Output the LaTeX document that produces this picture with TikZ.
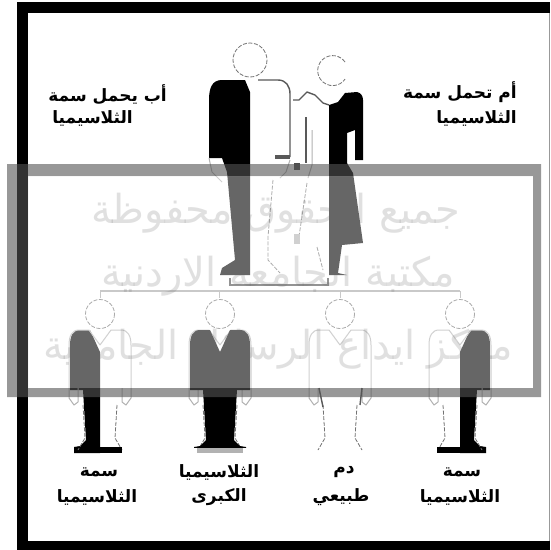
\documentclass[tikz,border=0pt]{standalone}
\usepackage{fontspec}
\newfontfamily\arabicfont[Script=Arabic]{DejaVu Sans}
\TeXXeTstate=1
\tikzset{
  x=1pt,y=-1pt,
  lbl/.style={font=\arabicfont\bfseries\fontsize{17}{20}\selectfont,inner sep=0pt,text=black},
  stamptext/.style={font=\arabicfont\fontsize{40}{44}\selectfont,inner sep=0pt,text=black!60,opacity=.2},
  outlinedash/.style={draw=black!55,line width=.8pt,dash pattern=on 4pt off 1.6pt,line join=round},
  lightline/.style={draw=black!30,line width=1pt,line join=round},
  greyline/.style={draw=black!65,line width=1.4pt,line join=round},
  connector/.style={draw=black!35,line width=1.2pt},
}
% One half of a child's jacket and trousers, drawn on the left of the axis
\newcommand{\halfjacket}{
  \fill (0,352) -- (-10,330) -- (-20,330) .. controls (-27,330) and (-30,336) .. (-30,345)
    -- (-30,390) -- (-17,390) -- (-14,440) -- (-20,446) -- (-26,447) -- (-26,453) -- (0,453) -- cycle;
}
% Head, collar, sleeves, hands and feet of a child
\newcommand{\childoutline}{
  \draw[outlinedash] (0,314) circle[radius=14.5];
  \foreach \s in {-1,1}{
    \begin{scope}[xscale=\s]
      \draw[lightline] (0,345) -- (11,330) -- (21,330) .. controls (28,330) and (31,336) .. (31,345) -- (31,388);
      \draw[lightline] (31,388) -- (31,398) -- (26,405) -- (22,402) -- (22,388);
      \draw[outlinedash] (17,405) -- (15,438) -- (22,450);
    \end{scope}
  }
}
\begin{document}
\begin{tikzpicture}
\useasboundingbox (0,0) rectangle (550,550);
\fill[white] (0,0) rectangle (550,550);

% Frame on the top, left and bottom sides
\fill[black] (17,2) rectangle (550,13);
\fill[black] (17,2) rectangle (28,550);
\fill[black] (17,541) rectangle (550,550);
\fill[black!40] (549,13) rectangle (550,541);

% Father
\draw[outlinedash] (250,60) circle[radius=17];
\fill (250,92) -- (245,80) -- (222,80) .. controls (212,80) and (209,88) .. (209,100)
  -- (209,158) -- (222,158) -- (227,172) -- (235,260) -- (222,268) -- (220,275) -- (250,275) -- cycle;
\draw[lightline] (209,158) -- (212,172) -- (222,182);
\draw[greyline] (258,80) -- (278,80) .. controls (286,80) and (290,86) .. (290,94) -- (290,157);
\fill[black!65] (275,155) rectangle (290,159);
\draw[lightline] (290,160) -- (286,172) -- (280,178);
\draw[outlinedash] (273,180) -- (268,237) -- (268,260) -- (280,273);

% Mother
\draw[outlinedash] (345,62) arc[start angle=-35,end angle=-325,radius=15];
\fill (329,105) -- (338,102) -- (345,93) -- (357,92) .. controls (361,93) and (363,96) .. (363,100)
  -- (363,160) -- (355,160) -- (355,130) -- (347,133) -- (347,163) -- (353,173) -- (363,243)
  -- (342,245) -- (338,273) -- (347,275) -- (329,275) -- cycle;
\draw[greyline] (293,100) -- (299,100) -- (307,92) -- (315,95) -- (323,103) -- (329,105);
\draw[greyline] (306,117) -- (306,163);
\draw[lightline] (312,130) -- (312,165) -- (308,178);
\fill[black!70] (294,163) rectangle (300,170);
\draw[outlinedash] (307,183) -- (298,243);
\fill[black!30] (294,234) rectangle (300,244);
\draw[outlinedash] (317,247) -- (323,270);

% Family tree connectors
\coordinate (fatherfoot) at (230,278);
\coordinate (motherfoot) at (328,278);
\coordinate (fatherlink) at (230,285);
\coordinate (motherlink) at (328,285);
\coordinate (busL) at (100,291);
\coordinate (busR) at (460,291);
\coordinate (c1) at (100,298);
\coordinate (c2) at (219,298);
\coordinate (c3) at (340,298);
\coordinate (c4) at (460,298);
\draw[draw=black!70,line width=1.3pt] (fatherfoot) -- (fatherlink) -- (motherlink) -- (motherfoot);
\draw[connector] (busL) -- (busR);
\draw[connector,line width=.8pt] (busL) -- (c1) (219,291) -- (c2) (340,291) -- (c3) (busR) -- (c4);

% First child: carrier, left side shaded
\begin{scope}[shift={(100,0)}]
  \halfjacket
  \childoutline
  \fill (0,447) rectangle (22,453);
\end{scope}
% Second child: thalassemia major, both sides shaded
\begin{scope}[shift={(220,0)}]
  \childoutline
  \fill[black!30] (-23,447) rectangle (23,453);
  \begin{scope}\clip (-40,320) rectangle (40,447);\halfjacket\end{scope}
  \begin{scope}[xscale=-1]\clip (-40,320) rectangle (40,447);\halfjacket\end{scope}
\end{scope}
% Third child: normal blood, outline only
\begin{scope}[shift={(340,0)}]
  \childoutline
  \draw[greyline] (-21,388) -- (-17,407);
  \draw[greyline] (22,388) -- (20,405);
\end{scope}
% Fourth child: carrier, right side shaded
\begin{scope}[shift={(460,0)}]
  \begin{scope}[xscale=-1]\halfjacket\end{scope}
  \childoutline
  \fill (-23,447) rectangle (0,453);
\end{scope}

% Overlaid stamp: grey band, pale interior and three lines of text
\fill[black!67,opacity=.6,even odd rule] (7,164) rectangle (541,397) (28,176) rectangle (533,388);
\fill[white,opacity=.4] (28,176) rectangle (533,388);
\node[stamptext] (stampA) at (276,213) {\beginR جميع الحقوق محفوظة\endR};
\node[stamptext] (stampB) at (278,276) {\beginR مكتبة الجامعة الاردنية\endR};
\node[stamptext] (stampC) at (278,349) {\beginR مركز ايداع الرسائل الجامعية\endR};

% Captions
\node[lbl,anchor=east] (fatherA) at (167,95) {\beginR أب يحمل سمة\endR};
\node[lbl,anchor=east] (fatherB) at (133,118) {\beginR الثلاسيميا\endR};
\node[lbl,anchor=east] (motherA) at (517,92) {\beginR أم تحمل سمة\endR};
\node[lbl,anchor=east] (motherB) at (517,118) {\beginR الثلاسيميا\endR};
\node[lbl] (oneA) at (99,472) {\beginR سمة\endR};
\node[lbl] (oneB) at (97,497) {\beginR الثلاسيميا\endR};
\node[lbl] (twoA) at (219,472) {\beginR الثلاسيميا\endR};
\node[lbl] (twoB) at (219,497) {\beginR الكبرى\endR};
\node[lbl] (threeA) at (344,472) {\beginR دم\endR};
\node[lbl] (threeB) at (341,497) {\beginR طبيعي\endR};
\node[lbl] (fourA) at (462,472) {\beginR سمة\endR};
\node[lbl] (fourB) at (460,497) {\beginR الثلاسيميا\endR};
\end{tikzpicture}
\end{document}
